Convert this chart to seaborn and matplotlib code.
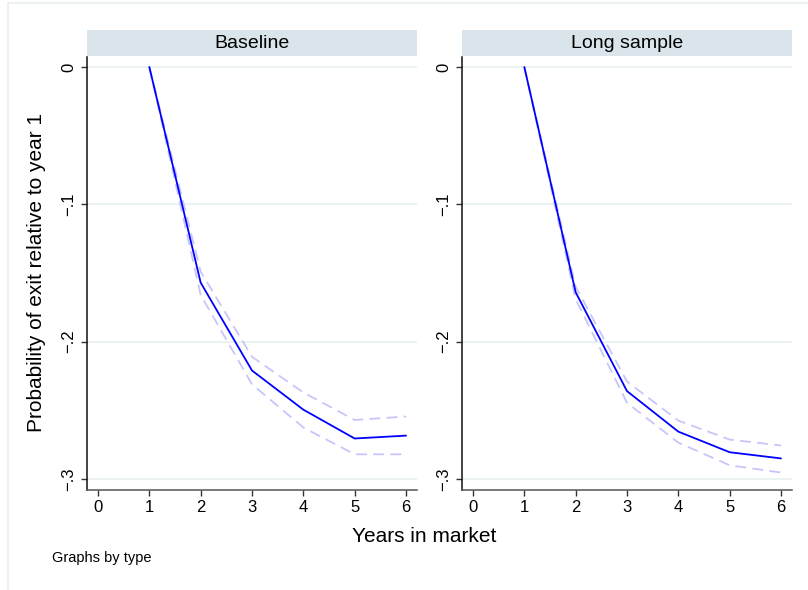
import matplotlib
matplotlib.use("Agg")
import matplotlib.pyplot as plt
from matplotlib.patches import Rectangle
import pandas as pd
import seaborn as sns

# values (Stata-style "by type" graph)
years = [1, 2, 3, 4, 5, 6]
panels = ["Baseline", "Long sample"]

base_est = [0, -0.157, -0.221, -0.2495, -0.2705, -0.2684]
base_hi = [0, -0.149, -0.211, -0.237, -0.257, -0.2545]
base_lo = [0, -0.166, -0.231, -0.2625, -0.282, -0.282]

long_est = [0, -0.164, -0.236, -0.2655, -0.2805, -0.285]
long_hi = [0, -0.160, -0.229, -0.2575, -0.2713, -0.2756]
long_lo = [0, -0.169, -0.2445, -0.2735, -0.290, -0.2953]

y_ticks = [0, -0.1, -0.2, -0.3]
y_ticklabels = ["0", "\u2212.1", "\u2212.2", "\u2212.3"]
x_ticks = [0, 1, 2, 3, 4, 5, 6]

rows = []
for panel, est, hi, lo in [("Baseline", base_est, base_hi, base_lo),
                           ("Long sample", long_est, long_hi, long_lo)]:
    for yr, e, h, l in zip(years, est, hi, lo):
        rows.append({"type": panel, "year": yr, "est": e, "hi": h, "lo": l})
df = pd.DataFrame(rows)

sns.set_style("white")
plt.rcParams["font.family"] = ["Liberation Sans", "DejaVu Sans"]
plt.rcParams["text.color"] = "black"
plt.rcParams["xtick.labelcolor"] = "black"
plt.rcParams["ytick.labelcolor"] = "black"

fig = plt.figure(figsize=(8.08, 5.90), dpi=100)

# faint outer frame like the Stata graph region
fig.patches.append(Rectangle((0.0099, -0.2), 1.2, 1.195, transform=fig.transFigure,
                             fill=False, edgecolor="#e8efef", linewidth=1.2))

lefts = [87 / 808, 462 / 808]
width = 330 / 808
bottom = 1 - 490 / 590
height = (490 - 57) / 590
strip_bottom = 1 - 56 / 590
strip_height = 26 / 590

grid_col = "#eaf2f3"
for left, panel in zip(lefts, panels):
    ax = fig.add_axes([left, bottom, width, height])
    sub = df[df["type"] == panel]
    for yv in y_ticks:
        ax.axhline(yv, color=grid_col, lw=1.4, zorder=0)
    sns.lineplot(data=sub, x="year", y="hi", ax=ax, color="#c6c6fb", lw=1.3,
                 linestyle=(0, (6, 3.5)))
    sns.lineplot(data=sub, x="year", y="lo", ax=ax, color="#c6c6fb", lw=1.3,
                 linestyle=(0, (6, 3.5)))
    sns.lineplot(data=sub, x="year", y="est", ax=ax, color="#0000ff", lw=1.3)

    ax.set_xlim(-0.214, 6.214)
    ax.set_ylim(-0.308, 0.0073)
    ax.set_xticks(x_ticks)
    ax.set_yticks(y_ticks)
    ax.set_yticklabels(y_ticklabels, rotation=90, va="center")
    ax.tick_params(axis="both", direction="out", length=4.5, width=1, color="#333333",
                   labelsize=12, pad=3, left=True, bottom=True, labelcolor="black")
    ax.set_xlabel("")
    ax.set_ylabel("")
    for s in ["top", "right"]:
        ax.spines[s].set_visible(False)
    ax.spines["left"].set_color("#111111")
    ax.spines["bottom"].set_color("#555555")
    ax.spines["left"].set_linewidth(1.1)
    ax.spines["bottom"].set_linewidth(1.1)

    sax = fig.add_axes([left, strip_bottom, width, strip_height])
    sax.set_facecolor("#d9e5eb")
    sax.set_xticks([])
    sax.set_yticks([])
    for s in sax.spines.values():
        s.set_visible(False)
    sax.text(0.5, 0.5, panel, ha="center", va="center", fontsize=14,
             color="black", transform=sax.transAxes)

fig.text(37 / 808, 1 - 273 / 590, "Probability of exit relative to year 1",
         rotation=90, ha="center", va="center", fontsize=15, color="black")
fig.text(424 / 808, 1 - 536 / 590, "Years in market", ha="center", va="center",
         fontsize=15, color="black")
fig.text(52 / 808, 1 - 558 / 590, "Graphs by type", ha="left", va="center",
         fontsize=10.5, color="black")

fig.savefig("out.png", dpi=100)
